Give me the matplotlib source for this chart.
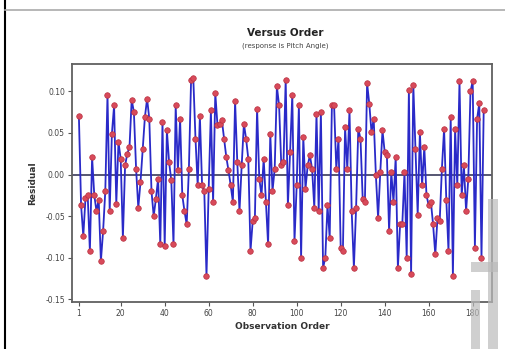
import matplotlib
matplotlib.use("Agg")
import matplotlib.pyplot as plt
from matplotlib.lines import Line2D
from matplotlib.patches import Polygon

# residuals, in observation order
residuals = [
    0.070, -0.037, -0.074, -0.028, -0.025, -0.092, 0.021, -0.025, -0.044, -0.030,
    -0.104, -0.068, -0.020, 0.096, -0.044, 0.049, 0.083, -0.035, 0.039, 0.019,
    -0.076, 0.011, 0.025, 0.033, 0.090, 0.075, 0.007, -0.040, -0.009, 0.031,
    0.069, 0.091, 0.067, -0.020, -0.050, -0.029, -0.005, -0.084, 0.063, -0.086,
    0.053, 0.015, -0.007, -0.084, 0.083, 0.005, 0.067, -0.025, -0.044, -0.060,
    0.007, 0.114, 0.116, 0.043, -0.013, 0.070, -0.013, -0.020, -0.122, -0.017,
    0.077, -0.033, 0.098, 0.059, 0.061, 0.065, 0.043, 0.021, 0.005, -0.013,
    -0.033, 0.088, 0.015, -0.044, 0.011, 0.061, 0.043, 0.019, -0.092, -0.056,
    -0.052, 0.079, -0.005, -0.025, 0.019, -0.033, -0.084, 0.049, -0.020, 0.007,
    0.106, 0.083, 0.011, 0.015, 0.114, -0.037, 0.027, 0.096, -0.080, -0.013,
    0.083, -0.100, 0.045, -0.017, 0.011, 0.023, 0.007, -0.040, 0.073, -0.044,
    0.075, -0.112, -0.100, -0.037, -0.076, 0.083, 0.083, 0.007, 0.043, -0.088,
    -0.092, 0.057, 0.007, 0.077, -0.044, -0.112, -0.040, 0.055, 0.043, -0.029,
    -0.033, 0.110, 0.085, 0.051, 0.067, -0.001, -0.052, 0.003, 0.053, 0.027,
    0.023, -0.068, 0.003, -0.033, 0.021, -0.112, -0.060, -0.060, 0.003, -0.100,
    0.102, -0.120, 0.108, 0.031, -0.048, 0.051, -0.013, 0.033, -0.025, -0.037,
    -0.033, -0.060, -0.096, -0.052, -0.056, 0.007, 0.055, -0.030, -0.092, 0.069,
    -0.122, 0.055, -0.013, 0.112, -0.025, 0.011, -0.044, -0.005, 0.100, 0.112,
    -0.088, 0.067, 0.086, -0.100, 0.077,
]
order = list(range(1, len(residuals) + 1))

x_ticks = [1, 20, 40, 60, 80, 100, 120, 140, 160, 180]
y_ticks = [-0.15, -0.10, -0.05, 0.00, 0.05, 0.10]

fig = plt.figure(figsize=(5.06, 3.49), dpi=100)
fig.patch.set_facecolor("white")
ax = fig.add_axes([0.142, 0.135, 0.830, 0.682])

ax.axhline(0, color="#3a3a5a", lw=1.2, zorder=1)
ax.plot(order, residuals, color="#2a2ac8", lw=1.3, zorder=2)
ax.plot(order, residuals, "o", ms=4.0, mfc="#d84a5a", mec="#b83040",
        mew=0.5, lw=0, zorder=3)

ax.set_xlim(-2.2, 188.7)
ax.set_ylim(-0.153, 0.133)
ax.set_xticks(x_ticks)
ax.set_yticks(y_ticks)
ax.set_yticklabels(["%.2f" % v for v in y_ticks])
ax.tick_params(labelsize=5.5, length=3, width=0.8, colors="#555555",
               labelcolor="#444444", pad=2)
for s in ax.spines.values():
    s.set_color("#606060")
    s.set_linewidth(1.3)

ax.set_xlabel("Observation Order", fontsize=6.5, fontweight="bold",
              color="#333333", labelpad=3)
ax.set_ylabel("Residual", fontsize=6.5, fontweight="bold",
              color="#333333", labelpad=6)

fig.text(0.564, 0.905, "Versus Order", ha="center", va="center",
         fontsize=7.5, fontweight="bold", color="#222222")
fig.text(0.564, 0.868, "(response is Pitch Angle)", ha="center",
         va="center", fontsize=5, color="#444444")

# page border bits around the screenshot
fig.add_artist(Line2D([0.010, 0.010], [0, 1], color="black", lw=1.5))
fig.add_artist(Line2D([0.010, 1.0], [0.970, 0.970], color="#aaaaaa", lw=1.2))

# faint watermark strokes at the bottom right
for pts in [
    [(0.930, 0.0), (0.948, 0.0), (0.948, 0.17), (0.930, 0.17)],
    [(0.965, 0.0), (0.985, 0.0), (0.985, 0.43), (0.965, 0.43)],
    [(0.930, 0.22), (0.985, 0.22), (0.985, 0.25), (0.930, 0.25)],
]:
    fig.add_artist(Polygon(pts, closed=True, transform=fig.transFigure,
                           facecolor="#bbbbbb", edgecolor="none", alpha=0.7,
                           zorder=5))

fig.savefig("out.png", dpi=100)
